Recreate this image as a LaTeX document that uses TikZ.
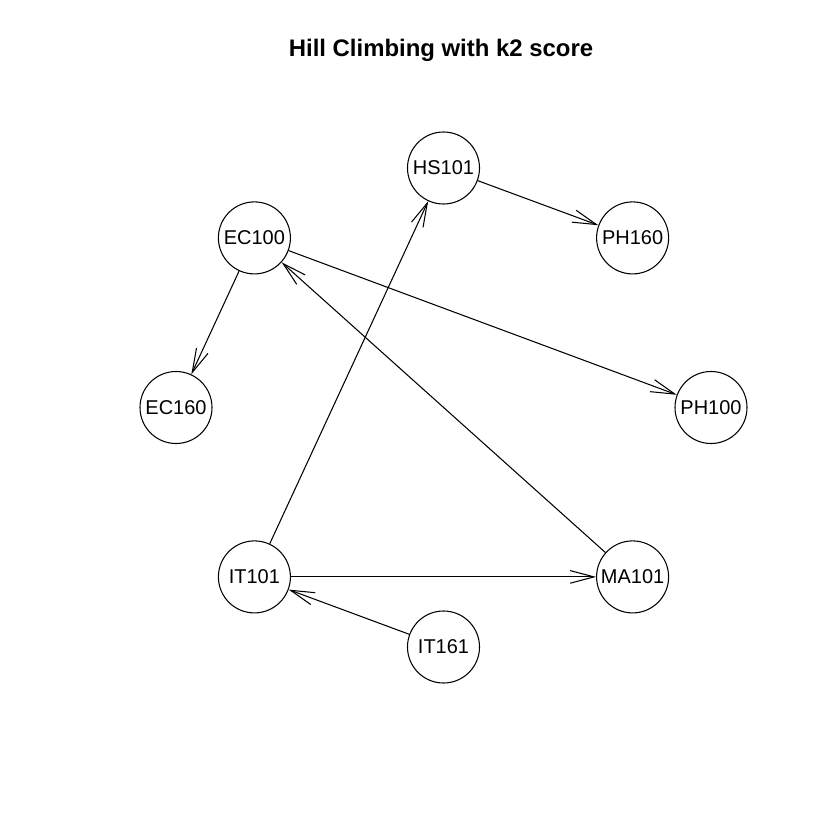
\documentclass[tikz,border=0pt]{standalone}
\usepackage{fontspec}
\setmainfont{Liberation Sans}
\usetikzlibrary{arrows.meta}
\tikzset{>={Straight Barb[length=17pt, width=9pt]}}
\tikzset{course/.style = {draw, circle, inner sep = 0, minimum size = 1.8cm,
                          font = \fontsize{14.2}{16}\selectfont}}
\tikzset{heading/.style = {font = \bfseries\fontsize{17}{20}\selectfont}}

\begin{document}
\begin{tikzpicture}[x = 0.025cm, y = -0.025cm, line width = 0.75pt]
      \useasboundingbox (0, 0) rectangle (840, 840);
      \node [heading] (title) at (441, 50) {Hill Climbing with k2 score};
      % courses on an ellipse
      \node [course] (HS101) at (443.5, 168) {HS101};
      \node [course] (PH160) at (632.6, 237.9) {PH160};
      \node [course] (PH100) at (711, 407.5) {PH100};
      \node [course] (MA101) at (632.6, 576.9) {MA101};
      \node [course] (IT161) at (443.5, 647) {IT161};
      \node [course] (IT101) at (254.4, 576.9) {IT101};
      \node [course] (EC160) at (176, 407.5) {EC160};
      \node [course] (EC100) at (254.4, 237.9) {EC100};
      % arcs
      \draw [->] (HS101) -- (PH160);
      \draw [->] (EC100) -- (EC160);
      \draw [->] (EC100) -- (PH100);
      \draw [->] (MA101) -- (EC100);
      \draw [->] (IT101) -- (HS101);
      \draw [->] (IT101) -- (MA101);
      \draw [->] (IT161) -- (IT101);
    \end{tikzpicture}
\end{document}
